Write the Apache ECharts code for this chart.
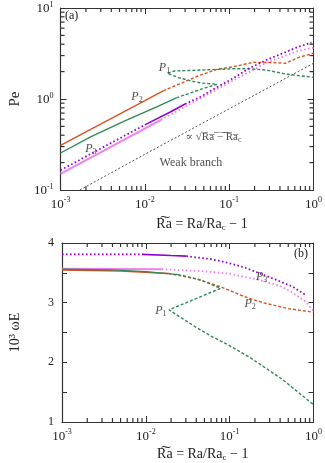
<!DOCTYPE html>
<html><head><meta charset="utf-8">
<script src="https://cdn.jsdelivr.net/npm/echarts@6/dist/echarts.min.js"></script>
<style>html,body{margin:0;padding:0;background:#fff}#c{width:325px;height:463px}</style>
</head><body><div id="c"></div>
<script>
// ---------- tick values ----------
const xMinorTicks = [0.002,0.003,0.004,0.005,0.006,0.007,0.008,0.009,0.02,0.03,0.04,0.05,0.06,0.07,0.08,0.09,0.2,0.3,0.4,0.5,0.6,0.7,0.8,0.9];
const peMinorTicks = [0.2,0.3,0.4,0.5,0.6,0.7,0.8,0.9,2,3,4,5,6,7,8,9];
const xRange = [0.001, 1];
const peRange = [0.1, 10];
const omRange = [1, 4];

// ---------- panel (a): Pe vs Ra~ ----------
const peOrangeSolid = [[0.001,0.31],[0.002,0.436],[0.005,0.683],[0.01,0.958],[0.0165,1.23]];
const peOrangeDash  = [[0.0165,1.23],[0.0269,1.49],[0.046,1.84],[0.072,2.12],[0.112,2.26],[0.192,2.53],[0.327,2.51],[0.468,2.47],[0.67,2.87],[1.0,3.18]];
const peGreenSolid  = [[0.001,0.255],[0.0023,0.385],[0.0057,0.57],[0.0138,0.82],[0.0236,1.03]];
const peGreenDash   = [[0.0236,1.03],[0.035,1.17],[0.05,1.31],[0.072,1.45],[0.046,1.50],[0.035,1.58],[0.025,1.72],[0.0184,1.92],[0.0225,2.03],[0.046,2.08],[0.112,2.15],[0.167,2.15],[0.275,2.08],[0.468,1.88],[1.0,1.73]];
const pePinkSolid   = [[0.001,0.150],[0.004,0.300],[0.0155,0.59]];
const pePinkDot     = [[0.0155,0.59],[0.046,1.02],[0.112,1.60],[0.275,2.50],[0.67,3.40],[1.0,3.66]];
const pePurpleDot1  = [[0.001,0.165],[0.003,0.286],[0.01,0.52]];
const pePurpleSolid = [[0.01,0.52],[0.02,0.72],[0.03,0.88]];
const pePurpleDot2  = [[0.03,0.88],[0.046,1.06],[0.072,1.35],[0.112,1.69],[0.167,2.14],[0.275,2.68],[0.43,3.18],[0.67,3.76],[0.95,4.16]];
const peSqrtLine    = [[0.00169,0.1],[0.01,0.247],[0.1,0.78],[1.0,2.47]];

// ---------- panel (b): 10^3 omega E vs Ra~ ----------
const omPurpleDot1  = [[0.001,3.81],[0.003,3.81],[0.009,3.81]];
const omPurpleSolid = [[0.009,3.81],[0.02,3.79],[0.0304,3.78]];
const omPurpleDot2  = [[0.0304,3.78],[0.06,3.73],[0.094,3.67],[0.15,3.59],[0.229,3.49],[0.35,3.39],[0.56,3.27],[0.80,3.13]];
const omPinkSolid   = [[0.001,3.57],[0.005,3.565],[0.0155,3.56]];
const omPinkDot     = [[0.0155,3.56],[0.045,3.53],[0.094,3.49],[0.229,3.38],[0.4,3.28],[0.56,3.17],[0.8,3.02],[1.0,2.86]];
const omOrangeSolid = [[0.001,3.55],[0.005,3.53],[0.0186,3.49]];
const omOrangeDash  = [[0.0186,3.49],[0.04,3.40],[0.08,3.26],[0.15,3.10],[0.25,3.00],[0.5,2.90],[1.0,2.84]];
const omGreenSolid  = [[0.001,3.56],[0.004,3.55],[0.01,3.52],[0.0243,3.47]];
const omGreenDash   = [[0.0243,3.47],[0.045,3.38],[0.078,3.24],[0.0385,3.06],[0.0189,2.88],[0.0269,2.74],[0.0385,2.60],[0.0601,2.44],[0.094,2.30],[0.175,2.08],[0.42,1.72],[1.0,1.29]];

// ---------- annotations ----------
const annotA = [
  {value:[0.00807,1.05], text:'{i|P}{sub|2}'},
  {value:[0.00229,0.283], text:'{i|P}{sub|3}'},
  {value:[0.0171,2.19], text:'{i|P}{sub|1}'},
  {value:[0.0652,0.382], text:'{m|∝ √}{m|R̅a̅ ̅−̅ ̅R̅a̅}{sub|c}'},
  {value:[0.0352,0.198], text:'{n|Weak branch}'}
];
const annotB = [
  {value:[0.24,3.435], text:'{i|P}{sub|3}'},
  {value:[0.175,2.98], text:'{i|P}{sub|2}'},
  {value:[0.0151,2.865], text:'{i|P}{sub|1}'}
];

const FONT = '"Liberation Serif","DejaVu Serif",serif';
const ORANGE = '#d9531e', GREEN = '#2e8b57', PURPLE = '#9400d3', PINK = '#ee82ee';
const AX = '#333';

const sup = v => { const e = Math.round(Math.log10(v)); return '{b|10}{s|' + (e < 0 ? '-' + (-e) : e) + '}'; };
const richLab = { b:{fontSize:13, fontFamily:FONT, color:'#222', verticalAlign:'bottom', lineHeight:15},
                  s:{fontSize:8, fontFamily:FONT, color:'#222', verticalAlign:'top', lineHeight:8} };
const richName = { n:{fontSize:14, fontFamily:FONT, color:'#222'}, sub:{fontSize:9, fontFamily:FONT, color:'#222', padding:[6,0,0,0]} };
const richAnn = { n:{fontSize:12, fontFamily:FONT, color:'#222'}, m:{fontSize:11, fontFamily:FONT, color:'#222'},
                  i:{fontSize:12, fontFamily:FONT, fontStyle:'italic', color:'#222'},
                  sub:{fontSize:8, fontFamily:FONT, color:'#222', padding:[6,0,0,0]} };

const xName = '{n|R͠a = Ra/Ra}{sub|c}{n| − 1}';

function xAxes(gi){
  const base = {type:'log', logBase:10, gridIndex:gi, min:xRange[0], max:xRange[1], splitLine:{show:false}};
  return [
    Object.assign({}, base, {position:'bottom', axisLine:{show:true, onZero:false, lineStyle:{color:AX, width:1.2}},
      axisTick:{show:true, inside:true, length:6, lineStyle:{color:AX, width:1}},
      axisLabel:{show:true, margin:6, formatter:sup, rich:richLab},
      name:xName, nameLocation:'middle', nameGap: gi===0 ? 27 : 25,
      nameTextStyle:{rich:richName, padding:[0,0,0,30]}}),
    Object.assign({}, base, {position:'top', axisLine:{show:true, onZero:false, lineStyle:{color:AX, width:1}},
      axisTick:{show:true, inside:true, length:6, lineStyle:{color:AX, width:1}}, axisLabel:{show:false}})
  ];
}

const peBase = {type:'log', logBase:10, gridIndex:0, min:peRange[0], max:peRange[1], splitLine:{show:false}};
const omBase = {type:'value', gridIndex:1, min:omRange[0], max:omRange[1], interval:0.5, splitLine:{show:false}};
const yAxesList = [
  Object.assign({}, peBase, {position:'left', axisLine:{show:true, onZero:false, lineStyle:{color:AX, width:1.2}},
    axisTick:{show:true, inside:true, length:6, lineStyle:{color:AX, width:1}},
    axisLabel:{show:true, margin:7, formatter:sup, rich:richLab},
    name:'Pe', nameLocation:'middle', nameGap:27, nameRotate:90, nameTextStyle:{fontSize:15, fontFamily:FONT, color:'#222'}}),
  Object.assign({}, peBase, {position:'right', axisLine:{show:true, onZero:false, lineStyle:{color:AX, width:1}},
    axisTick:{show:true, inside:true, length:6, lineStyle:{color:AX, width:1}}, axisLabel:{show:false}}),
  Object.assign({}, omBase, {position:'left', axisLine:{show:true, onZero:false, lineStyle:{color:AX, width:1.2}},
    axisTick:{show:true, inside:true, length:5, lineStyle:{color:AX, width:1}},
    axisLabel:{show:true, margin:8, fontSize:12, fontFamily:FONT, color:'#222', formatter: v => (v % 1 === 0 ? String(v) : '')},
    name:'10³ ωE', nameLocation:'middle', nameGap:40, nameRotate:90, nameTextStyle:{fontSize:14, fontFamily:FONT, color:'#222'}}),
  Object.assign({}, omBase, {position:'right', axisLine:{show:true, onZero:false, lineStyle:{color:AX, width:1}},
    axisTick:{show:true, inside:true, length:5, lineStyle:{color:AX, width:1}}, axisLabel:{show:false}})
];
// x axes: 0,1 panel a; 2,3 panel b. y axes: 0,1 panel a; 2,3 panel b.

function line(data, color, type, width, xi, yi, z){
  return {type:'line', data:data, xAxisIndex:xi, yAxisIndex:yi, showSymbol:false, symbol:'none', smooth:false,
    lineStyle:{color:color, width:width, type:type}, z:z||2, silent:true, animation:false};
}
const DASH = [3,2], DOT = [1.6,2.4];
function ann(list, xi, yi){
  return {type:'scatter', xAxisIndex:xi, yAxisIndex:yi, symbolSize:0, silent:true, animation:false, z:5,
    data:list.map(d => ({value:d.value, label:{show:true, position:'inside', formatter:d.text, rich:richAnn}}))};
}
// minor log ticks on the frame edges: small rect symbols placed through the axes' own scales
function tickMarks(points, size, offset, xi, yi){
  return {type:'scatter', xAxisIndex:xi, yAxisIndex:yi, silent:true, clip:false, z:20, zlevel:0, animation:false,
    symbol:'rect', symbolSize:size, symbolOffset:offset, showSymbol:true,
    itemStyle:{color:'#333', opacity:1}, data:points};
}
function minorTicksSeries(xTicks, yTicks, xr, yr, xi, yi){
  const out = [
    tickMarks(xTicks.map(v => [v, yr[0]]), [1.2, 4], [0, -2], xi, yi),
    tickMarks(xTicks.map(v => [v, yr[1]]), [1.2, 4], [0, 2], xi, yi)
  ];
  if (yTicks) {
    out.push(tickMarks(yTicks.map(v => [xr[0], v]), [4, 1.2], [2, 0], xi, yi));
    out.push(tickMarks(yTicks.map(v => [xr[1], v]), [4, 1.2], [-2, 0], xi, yi));
  }
  return out;
}

const series = [
  // panel a
  line(peSqrtLine, '#555', [2,2], 1, 0, 0),
  line(pePinkSolid, PINK, 'solid', 2, 0, 0),
  line(pePinkDot, PINK, DOT, 1.8, 0, 0),
  line(peOrangeSolid, ORANGE, 'solid', 1.4, 0, 0),
  line(peOrangeDash, ORANGE, DASH, 1.4, 0, 0),
  line(peGreenSolid, GREEN, 'solid', 1.4, 0, 0),
  line(peGreenDash, GREEN, DASH, 1.4, 0, 0),
  line(pePurpleDot1, PURPLE, DOT, 1.8, 0, 0),
  line(pePurpleSolid, PURPLE, 'solid', 1.6, 0, 0),
  line(pePurpleDot2, PURPLE, DOT, 1.8, 0, 0),
  ann(annotA, 0, 0)
].concat(minorTicksSeries(xMinorTicks, peMinorTicks, xRange, peRange, 0, 0)).concat([
  // panel b
  line(omPinkSolid, PINK, 'solid', 2, 2, 2),
  line(omPinkDot, PINK, DOT, 1.8, 2, 2),
  line(omOrangeSolid, ORANGE, 'solid', 1.6, 2, 2),
  line(omOrangeDash, ORANGE, DASH, 1.4, 2, 2),
  line(omGreenSolid, GREEN, 'solid', 1.4, 2, 2),
  line(omGreenDash, GREEN, DASH, 1.4, 2, 2),
  line(omPurpleDot1, PURPLE, DOT, 1.8, 2, 2),
  line(omPurpleSolid, PURPLE, 'solid', 1.6, 2, 2),
  line(omPurpleDot2, PURPLE, DOT, 1.8, 2, 2),
  ann(annotB, 2, 2)
]).concat(minorTicksSeries(xMinorTicks, null, xRange, omRange, 2, 2));

const chart = echarts.init(document.getElementById('c'), null, {renderer:'canvas'});
chart.setOption({
  animation:false,
  backgroundColor:'#fff',
  grid:[{left:57, top:8, width:258, height:182}, {left:57, top:243, width:258, height:181}],
  xAxis: xAxes(0).concat(xAxes(1)),
  yAxis: yAxesList,
  graphic:[
    {type:'text', left:65, top:10, style:{text:'(a)', font:'12px ' + FONT, fill:'#222'}},
    {type:'text', left:294, top:248, style:{text:'(b)', font:'12px ' + FONT, fill:'#222'}}
  ],
  series: series
});
</script></body></html>
